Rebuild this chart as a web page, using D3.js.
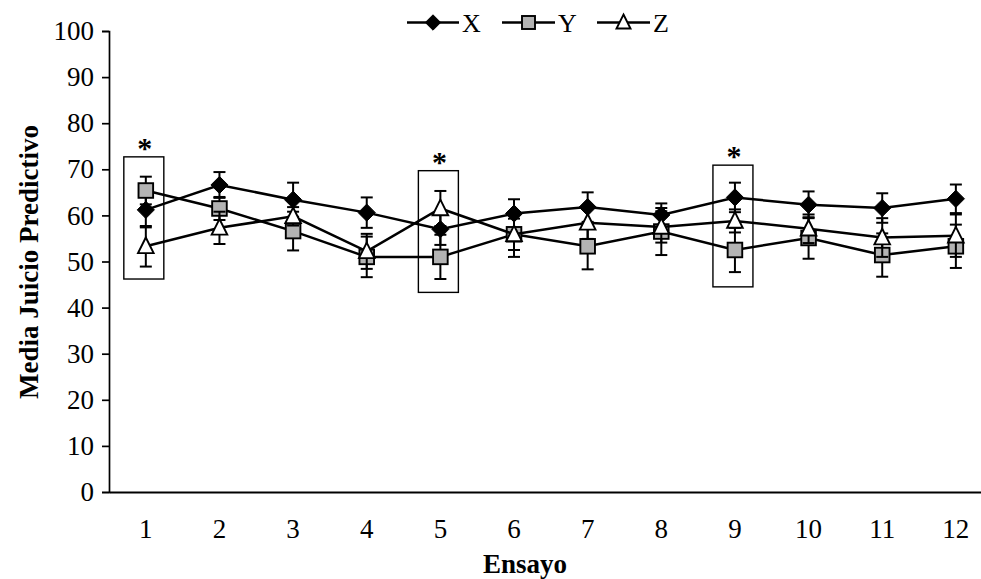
<!DOCTYPE html>
<html><head><meta charset="utf-8">
<script src="https://cdn.jsdelivr.net/npm/d3@7"></script>
<style>
body{margin:0;background:#fff;}
svg{display:block;font-family:"Liberation Serif","Times New Roman",serif;}
</style></head>
<body>
<svg id="chart" width="981" height="579"></svg>
<script>
const categories = [1,2,3,4,5,6,7,8,9,10,11,12];
const seriesNames = ["X","Y","Z"];
const xValues = [61.2,66.6,63.4,60.6,57.0,60.4,61.8,60.1,63.9,62.3,61.6,63.6];
const yValues = [65.4,61.5,56.6,51.0,51.0,55.9,53.3,56.5,52.5,55.1,51.4,53.3];
const zValues = [53.3,57.3,59.8,52.2,61.5,55.9,58.4,57.5,58.8,57.1,55.2,55.6];
const xErr = [3.8,2.8,3.7,3.3,3.4,3.1,3.2,2.5,3.2,2.9,3.2,3.1];
const yErr = [3.0,2.5,4.2,4.4,4.8,4.9,5.0,5.1,4.8,4.5,4.7,4.7];
const zErr = [4.4,3.5,2.0,3.8,3.8,3.4,3.5,3.4,2.5,3.1,4.2,4.6];
const yTicks = [0,10,20,30,40,50,60,70,80,90,100];
const boxCats = [1,5,9];
const boxTop = [72.7,69.7,70.9];
const boxBottom = [46.2,43.3,44.5];
const yTitle = "Media Juicio Predictivo";
const xTitle = "Ensayo";

const svg = d3.select("#chart");
const mLeft = 109, mTop = 31, mBottom = 492;
const step = 73.64;
const x = d3.scaleBand().domain(categories).range([mLeft, mLeft + step*categories.length]).padding(0);
const cx = c => x(c) + x.bandwidth()/2;
const y = d3.scaleLinear().domain([0,100]).range([mBottom, mTop]);

// Y axis
const yAxis = d3.axisLeft(y).tickValues(yTicks).tickSize(7).tickPadding(8);
const gy = svg.append("g").attr("transform",`translate(${mLeft},0)`).call(yAxis);
gy.select(".domain").attr("stroke","#000").attr("stroke-width",1.7);
gy.selectAll(".tick line").attr("stroke","#000").attr("stroke-width",1.7);
gy.selectAll(".tick text").attr("font-size",27).attr("fill","#000").attr("font-family","Liberation Serif");

// X axis
const xAxis = d3.axisBottom(x).tickSize(0).tickPadding(27);
const gx = svg.append("g").attr("transform",`translate(0,${mBottom})`).call(xAxis);
gx.select(".domain").attr("stroke","#000").attr("stroke-width",2.2);
gx.selectAll(".tick text").attr("font-size",27).attr("fill","#000").attr("font-family","Liberation Serif");

// titles
svg.append("text").attr("transform",`translate(38,262) rotate(-90)`).attr("text-anchor","middle")
  .attr("font-weight","bold").attr("font-size",27).text(yTitle);
svg.append("text").attr("x",525).attr("y",573).attr("text-anchor","middle")
  .attr("font-weight","bold").attr("font-size",27).text(xTitle);

// significance boxes
boxCats.forEach((c,i)=>{
  svg.append("rect").attr("x",cx(c)-22).attr("width",40)
    .attr("y",y(boxTop[i])).attr("height",y(boxBottom[i])-y(boxTop[i]))
    .attr("fill","none").attr("stroke","#000").attr("stroke-width",1.4);
  svg.append("text").attr("x",cx(c)-1).attr("y",y(boxTop[i])+1).attr("text-anchor","middle")
    .attr("font-weight","bold").attr("font-size",30).text("*");
});

const series = [
  {name:"X", vals:xValues, err:xErr, shape:"diamond", fill:"#000"},
  {name:"Y", vals:yValues, err:yErr, shape:"square", fill:"#b3b3b3"},
  {name:"Z", vals:zValues, err:zErr, shape:"triangle", fill:"#fff"}
];

function marker(g, shape, fill, px, py, s){
  if(shape==="diamond"){
    const d = s*1.1;
    g.append("path").attr("d",`M${px},${py-d}L${px+d},${py}L${px},${py+d}L${px-d},${py}Z`)
      .attr("fill","#000").attr("stroke","#000").attr("stroke-width",1);
  } else if(shape==="square"){
    g.append("rect").attr("x",px-s+0.5).attr("y",py-s+0.5).attr("width",2*s-1).attr("height",2*s-1)
      .attr("fill",fill).attr("stroke","#000").attr("stroke-width",1.9);
  } else {
    g.append("path").attr("d",`M${px},${py-s-1}L${px+s},${py+s-1}L${px-s},${py+s-1}Z`)
      .attr("fill",fill).attr("stroke","#000").attr("stroke-width",1.9);
  }
}

const line = d3.line().x((d,i)=>cx(categories[i])).y(d=>y(d));
series.forEach(s=>{
  const g = svg.append("g");
  s.vals.forEach((v,i)=>{
    const px = cx(categories[i]);
    g.append("line").attr("x1",px).attr("x2",px).attr("y1",y(v+s.err[i])).attr("y2",y(v-s.err[i]))
      .attr("stroke","#000").attr("stroke-width",2);
    [v+s.err[i], v-s.err[i]].forEach(e=>{
      g.append("line").attr("x1",px-6).attr("x2",px+6).attr("y1",y(e)).attr("y2",y(e))
        .attr("stroke","#000").attr("stroke-width",2);
    });
  });
  g.append("path").datum(s.vals).attr("d",line).attr("fill","none").attr("stroke","#000").attr("stroke-width",2.5);
  s.vals.forEach((v,i)=>marker(g, s.shape, s.fill, cx(categories[i]), y(v), 7.8));
});

// legend
const legItems = [
  {shape:"diamond", fill:"#000", x0:407, x1:459},
  {shape:"square", fill:"#b3b3b3", x0:502, x1:555},
  {shape:"triangle", fill:"#fff", x0:597, x1:650}
];
const ly = 22.5;
legItems.forEach((it,i)=>{
  const g = svg.append("g");
  g.append("line").attr("x1",it.x0).attr("x2",it.x1).attr("y1",ly).attr("y2",ly).attr("stroke","#000").attr("stroke-width",2.5);
  marker(g, it.shape, it.fill, (it.x0+it.x1)/2, ly, 7);
  g.append("text").attr("x",it.x1+3).attr("y",ly+9).attr("font-size",26).text(seriesNames[i]);
});
</script>
</body></html>
